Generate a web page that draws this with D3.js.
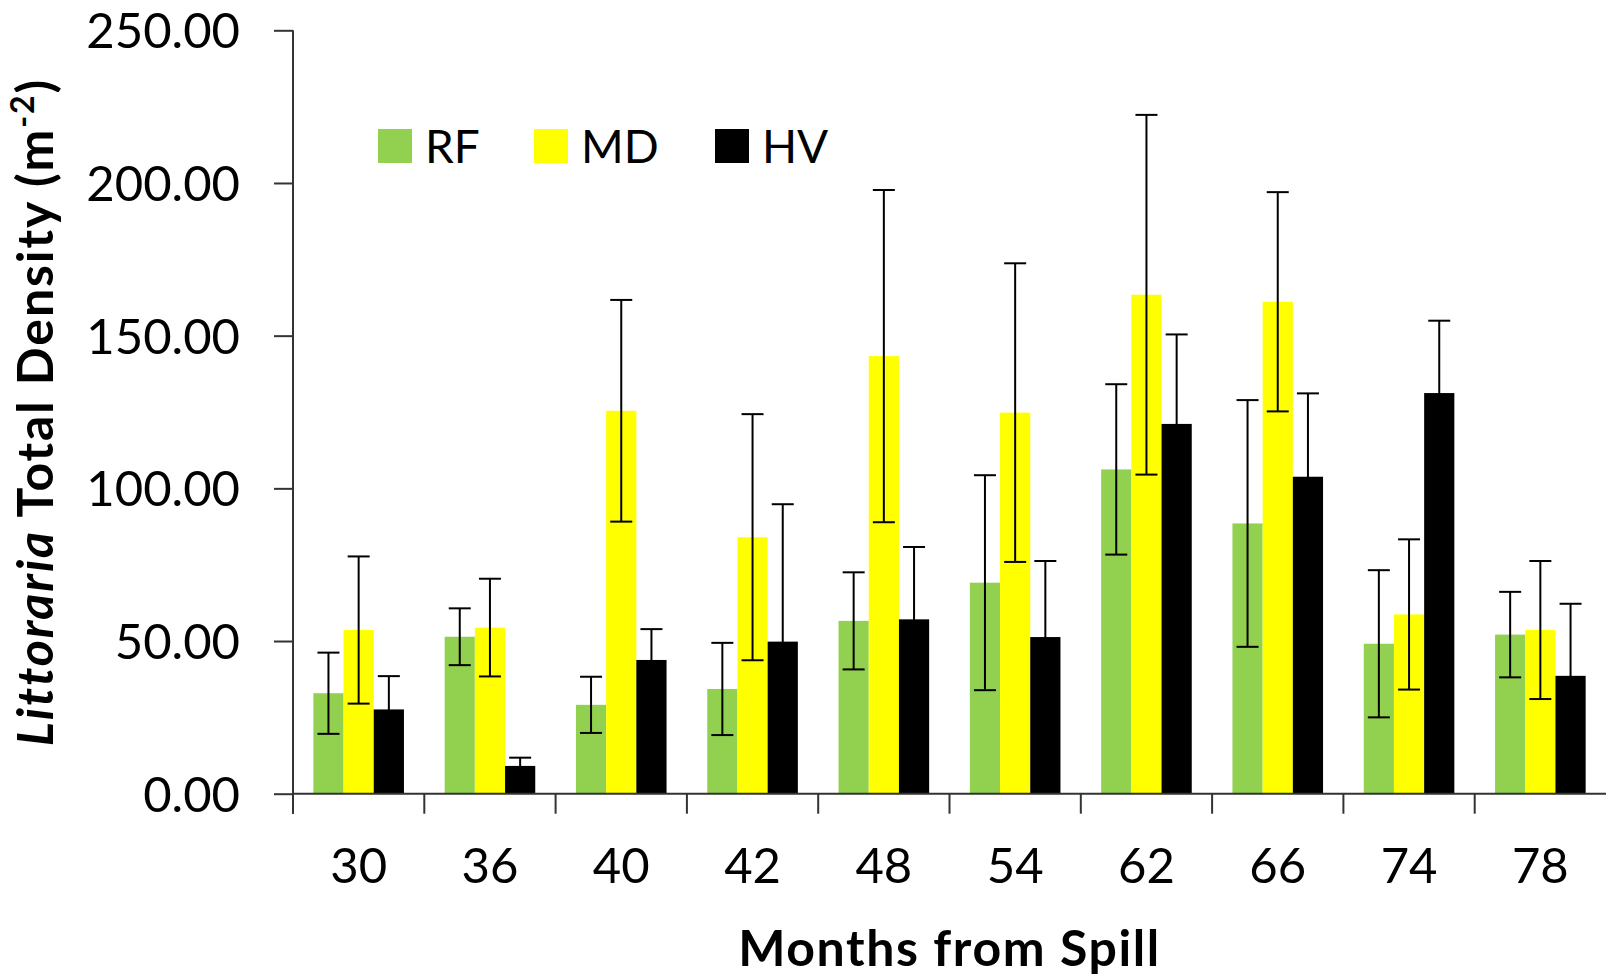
<!DOCTYPE html>
<html>
<head>
<meta charset="utf-8">
<script src="https://cdn.jsdelivr.net/npm/d3@7"></script>
<style>
  body { margin: 0; background: #fff; }
  text { font-family: Lato, "Open Sans", sans-serif; fill: #000; }
</style>
</head>
<body>
<svg id="chart" width="1606" height="976"></svg>
<script>
// Months since the spill (categories)
const months = ["30", "36", "40", "42", "48", "54", "62", "66", "74", "78"];
const seriesNames = ["RF", "MD", "HV"];

// Mean Littoraria density (m^-2) per site type
const rfMean = [32.9, 51.4, 29.1, 34.3, 56.6, 69.1, 106.2, 88.5, 49.1, 52.1];
const mdMean = [53.6, 54.4, 125.4, 84.0, 143.3, 124.8, 163.4, 161.1, 58.7, 53.6];
const hvMean = [27.6, 9.1, 43.8, 49.8, 57.1, 51.3, 121.1, 103.8, 131.2, 38.6];

// Error (± one standard error)
const rfErr = [13.3, 9.3, 9.2, 15.1, 15.9, 35.2, 27.9, 40.4, 24.1, 14.0];
const mdErr = [24.1, 16.0, 36.3, 40.3, 54.4, 48.9, 58.9, 35.9, 24.6, 22.6];
const hvErr = [10.9, 2.7, 10.1, 45.0, 23.7, 24.9, 29.3, 27.3, 23.7, 23.6];

const yTicks = [0, 50, 100, 150, 200, 250];

const colors = { RF: "#92D050", MD: "#FFFF00", HV: "#000000" };
const means = { RF: rfMean, MD: mdMean, HV: hvMean };
const errs = { RF: rfErr, MD: mdErr, HV: hvErr };

const svg = d3.select("#chart");
const plotLeft = 293, plotRight = 1606, plotTop = 30.3, plotBottom = 793.7;

const x0 = d3.scaleBand().domain(months).range([plotLeft, plotRight]).padding(0);
const groupW = x0.bandwidth() * 0.69;
const x1 = d3.scaleBand().domain(seriesNames).range([0, groupW]).padding(0);
const y = d3.scaleLinear().domain([0, 250]).range([plotBottom, plotTop]);

const rows = months.map((m, i) => ({
  month: m,
  values: seriesNames.map(s => ({ series: s, mean: means[s][i], err: errs[s][i] }))
}));

// Bars
const groups = svg.append("g").selectAll("g").data(rows).join("g")
  .attr("transform", d => `translate(${x0(d.month) + (x0.bandwidth() - groupW) / 2},0)`);

groups.selectAll("rect").data(d => d.values).join("rect")
  .attr("x", d => x1(d.series))
  .attr("width", x1.bandwidth())
  .attr("y", d => y(d.mean))
  .attr("height", d => y(0) - y(d.mean))
  .attr("fill", d => colors[d.series]);

// Error bars (mean ± err) with caps
const capHalf = 11;
const eb = groups.selectAll("g.err").data(d => d.values).join("g")
  .attr("class", "err")
  .attr("transform", d => `translate(${x1(d.series) + x1.bandwidth() / 2},0)`)
  .attr("stroke", "#000").attr("stroke-width", 2).attr("fill", "none");
eb.append("line")
  .attr("x1", 0).attr("x2", 0)
  .attr("y1", d => y(d.mean + d.err)).attr("y2", d => y(d.mean - d.err));
eb.append("line")
  .attr("x1", -capHalf).attr("x2", capHalf)
  .attr("y1", d => y(d.mean + d.err)).attr("y2", d => y(d.mean + d.err));
eb.append("line")
  .attr("x1", -capHalf).attr("x2", capHalf)
  .attr("y1", d => y(d.mean - d.err)).attr("y2", d => y(d.mean - d.err));

// Y axis
const yAxis = svg.append("g")
  .attr("transform", `translate(${plotLeft},0)`)
  .call(d3.axisLeft(y).tickValues(yTicks).tickFormat(d3.format(".2f"))
    .tickSize(19).tickSizeOuter(0).tickPadding(34));
yAxis.select(".domain").remove();
yAxis.selectAll(".tick line").attr("stroke", "#333").attr("stroke-width", 2);
yAxis.selectAll(".tick text")
  .attr("font-size", 49).attr("font-family", "Lato, sans-serif")
  .attr("dy", "0.36em").attr("fill", "#000");

// X axis labels at band centres
const xAxis = svg.append("g")
  .attr("transform", `translate(0,${plotBottom})`)
  .call(d3.axisBottom(x0).tickSize(0).tickSizeOuter(0));
xAxis.select(".domain").remove();
xAxis.selectAll(".tick text")
  .attr("font-size", 49).attr("font-family", "Lato, sans-serif")
  .attr("y", 89).attr("dy", 0).attr("fill", "#000");

// Axis lines and category divider ticks
const axisG = svg.append("g").attr("stroke", "#333").attr("stroke-width", 2);
axisG.append("line")
  .attr("x1", plotLeft).attr("x2", plotLeft)
  .attr("y1", y(250)).attr("y2", plotBottom + 20);
axisG.append("line")
  .attr("x1", plotLeft).attr("x2", plotRight)
  .attr("y1", plotBottom).attr("y2", plotBottom);
axisG.selectAll("line.div").data(months).join("line")
  .attr("class", "div")
  .attr("x1", d => x0(d)).attr("x2", d => x0(d))
  .attr("y1", plotBottom).attr("y2", plotBottom + 20);

// Legend
const legendX = [378, 534, 715];
const legend = svg.append("g").selectAll("g").data(seriesNames).join("g")
  .attr("transform", (d, i) => `translate(${legendX[i]},129)`);
legend.append("rect").attr("width", 34).attr("height", 34).attr("fill", d => colors[d]);
legend.append("text").attr("x", 47).attr("y", 34)
  .attr("font-size", 46).text(d => d);

// Axis titles
svg.append("text")
  .attr("x", (plotLeft + plotRight) / 2).attr("y", 966)
  .attr("text-anchor", "middle").attr("font-size", 50).attr("font-weight", "bold")
  .attr("letter-spacing", 1.6)
  .text("Months from Spill");

const yTitle = svg.append("text")
  .attr("transform", `translate(53,${(plotTop + plotBottom) / 2}) rotate(-90)`)
  .attr("text-anchor", "middle").attr("font-size", 50).attr("font-weight", "bold")
  .attr("letter-spacing", 1.9);
yTitle.append("tspan").attr("font-style", "italic").text("Littoraria");
yTitle.append("tspan").text(" Total Density (m");
yTitle.append("tspan").attr("font-size", 32).attr("baseline-shift", "super").text("-2");
yTitle.append("tspan").text(")");
</script>
</body>
</html>
